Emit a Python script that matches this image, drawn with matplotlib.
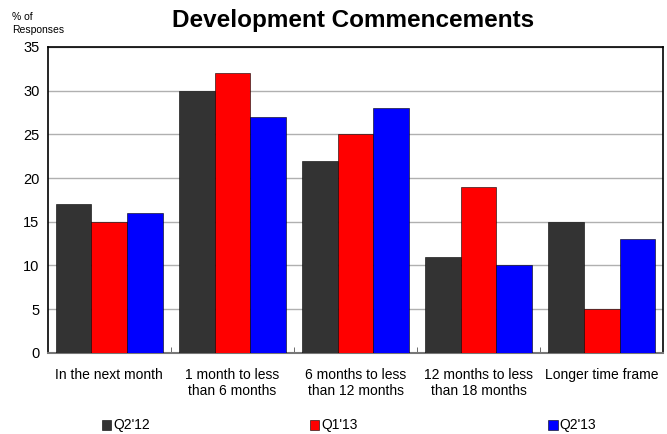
import numpy as np
import matplotlib.pyplot as plt

plt.rcParams['font.family'] = ['Liberation Sans', 'DejaVu Sans']

# Data
categories = ['In the next month', '1 month to less\nthan 6 months', '6 months to less\nthan 12 months',
              '12 months to less\nthan 18 months', 'Longer time frame']
series_names = ["Q2'12", "Q1'13", "Q2'13"]
q2_12 = [17, 30, 22, 11, 15]
q1_13 = [15, 32, 25, 19, 5]
q2_13 = [16, 27, 28, 10, 13]
colors = ['#333333', '#ff0000', '#0000ff']

fig = plt.figure(figsize=(6.67, 4.34), dpi=100)
ax = fig.add_axes([0.0715, 0.187, 0.923, 0.705])

x = np.arange(len(categories))
w = 0.29
for i, (vals, c) in enumerate(zip([q2_12, q1_13, q2_13], colors)):
    ax.bar(x + (i - 1) * w, vals, w, color=c, edgecolor='black', linewidth=0.4, zorder=3)

ax.set_xlim(-0.5, len(categories) - 0.5)
ax.set_ylim(0, 35)
ax.set_yticks(range(0, 36, 5))
ax.yaxis.grid(True, color='#b0b0b0', linewidth=1.0, zorder=0)
ax.tick_params(axis='y', length=0, labelsize=10.5, pad=6)

ax.set_xticks(x)
ax.set_xticklabels(categories, fontsize=10)
ax.tick_params(axis='x', length=0, pad=11)
# category boundary ticks
ax.set_xticks(np.arange(len(categories) - 1) + 0.5, minor=True)
ax.tick_params(axis='x', which='minor', direction='in', length=4, color='#555555')

for s in ['top', 'right', 'left']:
    ax.spines[s].set_color('black')
    ax.spines[s].set_linewidth(1.2)
ax.spines['bottom'].set_color('#777777')
ax.spines['bottom'].set_linewidth(1.5)

fig.text(0.53, 0.952, 'Development Commencements', ha='center', va='center',
         fontsize=17.5, fontweight='bold')
fig.text(0.018, 0.946, '% of\nResponses', ha='left', va='center', fontsize=7.5, linespacing=1.3)

leg_x = [0.153, 0.465, 0.822]
for name, c, lx in zip(series_names, colors, leg_x):
    fig.patches.append(plt.Rectangle((lx, 0.01), 0.014, 0.023, transform=fig.transFigure,
                                     facecolor=c, edgecolor='black', linewidth=0.4))
    fig.text(lx + 0.017, 0.021, name, ha='left', va='center', fontsize=10)

fig.savefig('out.png', dpi=100)
